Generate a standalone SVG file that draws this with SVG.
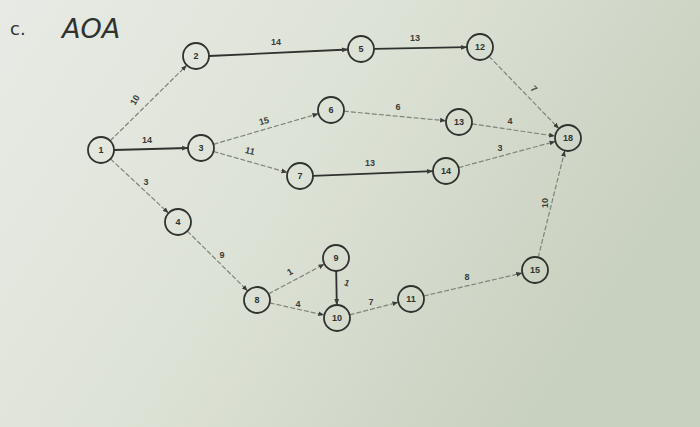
<svg xmlns="http://www.w3.org/2000/svg" width="700" height="427" viewBox="0 0 700 427">
<defs>
<linearGradient id="bg" x1="0" y1="0" x2="1" y2="0.4">
<stop offset="0" stop-color="#e8ebe5"/>
<stop offset="0.5" stop-color="#dde2d6"/>
<stop offset="1" stop-color="#c8d0bf"/>
</linearGradient>
<marker id="ah" viewBox="0 0 10 10" refX="10" refY="5" markerWidth="6" markerHeight="6" orient="auto" markerUnits="userSpaceOnUse">
<path d="M0,1 L10,5 L0,9 Z" fill="#3a3d38"/>
</marker>
<style>
.node circle{fill:none;stroke:#2f322e;stroke-width:1.8}
.node text{font-family:"Liberation Sans",Arial,sans-serif;font-size:9px;font-weight:bold;fill:#2f322e;text-anchor:middle}
.e{stroke:#2f322e;stroke-width:1.8;fill:none;marker-end:url(#ah)}
.f{stroke:#7f857b;stroke-width:1.2;fill:none;marker-end:url(#ah);stroke-dasharray:5 2}
.lbl{font-family:"Liberation Sans",Arial,sans-serif;font-size:9px;font-weight:bold;fill:#3a3d38;text-anchor:middle}
.hand{font-family:"DejaVu Sans",sans-serif;fill:#2f322e}
</style>
</defs>
<rect width="700" height="427" fill="url(#bg)"/>
<text class="hand" x="10" y="35" font-size="18">c.</text>
<text class="hand" x="62" y="38" font-size="27" font-style="italic">AOA</text>
<g id="connectors">
<line class="f" x1="110.2" y1="140.8" x2="186.8" y2="65.2"/>
<line class="e" x1="114" y1="150" x2="188" y2="148"/>
<line class="f" x1="110.5" y1="158.9" x2="168.5" y2="213.1"/>
<line class="e" x1="209" y1="56" x2="348" y2="49.5"/>
<line class="f" x1="213.5" y1="144.3" x2="318.5" y2="113.7"/>
<line class="f" x1="213.5" y1="151.5" x2="287.5" y2="172.5"/>
<line class="e" x1="374" y1="48.8" x2="467" y2="47.2"/>
<line class="f" x1="343.9" y1="111.2" x2="446.1" y2="120.8"/>
<line class="e" x1="313" y1="175.8" x2="433" y2="171.2"/>
<line class="f" x1="489" y1="56.3" x2="559" y2="128.7"/>
<line class="f" x1="471.9" y1="123.9" x2="555.1" y2="136.1"/>
<line class="f" x1="458.5" y1="167.6" x2="555.5" y2="141.4"/>
<line class="f" x1="538.2" y1="257.4" x2="564.8" y2="150.6"/>
<line class="f" x1="187.3" y1="231.1" x2="247.7" y2="290.9"/>
<line class="f" x1="268.5" y1="293.9" x2="324.5" y2="264.1"/>
<line class="f" x1="269.7" y1="302.9" x2="324.3" y2="315.1"/>
<line class="e" x1="336.2" y1="271" x2="336.8" y2="305"/>
<line class="f" x1="349.6" y1="314.8" x2="398.4" y2="302.2"/>
<line class="f" x1="423.7" y1="296" x2="522.3" y2="273"/>
<text class="lbl" x="135" y="103" transform="rotate(-60 135 100)">10</text>
<text class="lbl" x="147" y="143">14</text>
<text class="lbl" x="146" y="185">3</text>
<text class="lbl" x="276" y="45">14</text>
<text class="lbl" x="415" y="41">13</text>
<text class="lbl" x="264" y="124" transform="rotate(-15 264 121)">15</text>
<text class="lbl" x="250" y="154" transform="rotate(15 250 151)">11</text>
<text class="lbl" x="398" y="110">6</text>
<text class="lbl" x="510" y="124">4</text>
<text class="lbl" x="534" y="92" transform="rotate(45 534 89)">7</text>
<text class="lbl" x="370" y="166">13</text>
<text class="lbl" x="500" y="151">3</text>
<text class="lbl" x="545" y="206" transform="rotate(-90 545 203)">10</text>
<text class="lbl" x="222" y="258">9</text>
<text class="lbl" x="290" y="275" transform="rotate(-30 290 272)">1</text>
<text class="lbl" x="298" y="307">4</text>
<text class="lbl" x="347" y="286" transform="rotate(20 347 283)">1</text>
<text class="lbl" x="371" y="305">7</text>
<text class="lbl" x="467" y="280">8</text>
</g>
<g id="n1" class="node"><circle cx="101" cy="150" r="13"/><text x="101" y="153">1</text></g>
<g id="n2" class="node"><circle cx="196" cy="56" r="13"/><text x="196" y="59">2</text></g>
<g id="n3" class="node"><circle cx="201" cy="148" r="13"/><text x="201" y="151">3</text></g>
<g id="n4" class="node"><circle cx="178" cy="222" r="13"/><text x="178" y="225">4</text></g>
<g id="n5" class="node"><circle cx="361" cy="49" r="13"/><text x="361" y="52">5</text></g>
<g id="n6" class="node"><circle cx="331" cy="110" r="13"/><text x="331" y="113">6</text></g>
<g id="n7" class="node"><circle cx="300" cy="176" r="13"/><text x="300" y="179">7</text></g>
<g id="n8" class="node"><circle cx="257" cy="300" r="13"/><text x="257" y="303">8</text></g>
<g id="n9" class="node"><circle cx="336" cy="258" r="13"/><text x="336" y="261">9</text></g>
<g id="n10" class="node"><circle cx="337" cy="318" r="13"/><text x="337" y="321">10</text></g>
<g id="n11" class="node"><circle cx="411" cy="299" r="13"/><text x="411" y="302">11</text></g>
<g id="n12" class="node"><circle cx="480" cy="47" r="13"/><text x="480" y="50">12</text></g>
<g id="n13" class="node"><circle cx="459" cy="122" r="13"/><text x="459" y="125">13</text></g>
<g id="n14" class="node"><circle cx="446" cy="171" r="13"/><text x="446" y="174">14</text></g>
<g id="n15" class="node"><circle cx="535" cy="270" r="13"/><text x="535" y="273">15</text></g>
<g id="n18" class="node"><circle cx="568" cy="138" r="13"/><text x="568" y="141">18</text></g>
</svg>
